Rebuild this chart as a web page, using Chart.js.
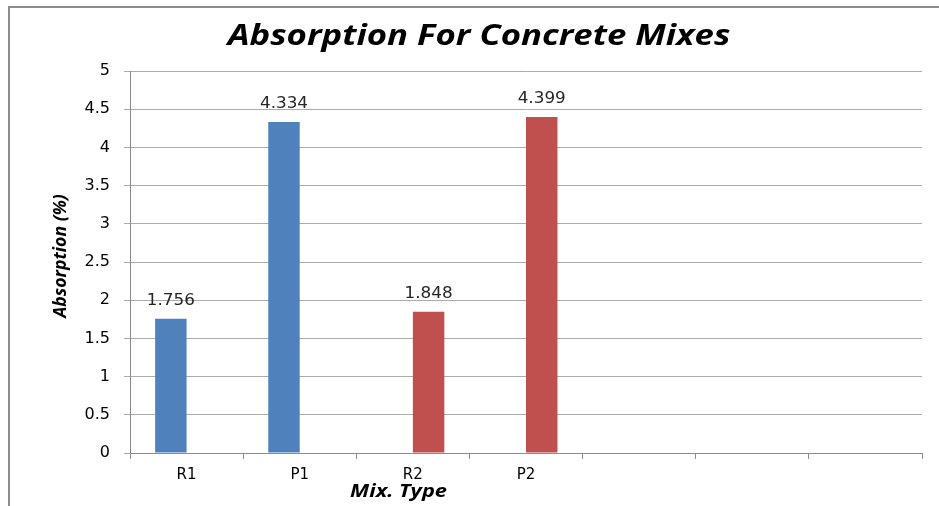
<!DOCTYPE html>
<html>
<head>
<meta charset="utf-8">
<script src="https://cdn.jsdelivr.net/npm/chart.js@4/dist/chart.umd.min.js"></script>
<style>
  html, body { margin: 0; padding: 0; background: #ffffff; }
  #wrap { width: 939px; height: 506px; position: relative; }
</style>
</head>
<body>
<div id="wrap"><canvas id="c" width="939" height="506"></canvas></div>
<script>
// Mix types along the x axis (trailing blank slots keep the empty categories)
const mixTypes = ['R1', 'P1', 'R2', 'P2', '', '', ''];
// Absorption (%) for the reference mixes and the modified mixes
const seriesBlue = [1.756, 4.334, null, null, null, null, null];
const seriesRed  = [null, null, 1.848, 4.399, null, null, null];
// Y axis range
const yMin = 0;
const yMax = 5;
const yStep = 0.5;

const chartTitle = 'Absorption For Concrete Mixes';
const yTitle = 'Absorption (%)';
const xTitle = 'Mix. Type';

// Draws text centred at (x, y), widened horizontally by sx
function wideText(ctx, text, x, y, sx) {
  ctx.save();
  ctx.translate(x, y);
  ctx.scale(sx, 1);
  ctx.fillText(text, 0, 0);
  ctx.restore();
}

// Outer frame of the chart object
const framePlugin = {
  id: 'frame',
  beforeDraw(chart) {
    const ctx = chart.ctx;
    ctx.save();
    ctx.strokeStyle = '#8c8c8c';
    ctx.lineWidth = 2;
    ctx.beginPath();
    ctx.moveTo(9, chart.height);
    ctx.lineTo(9, 7);
    ctx.lineTo(chart.width, 7);
    ctx.stroke();
    ctx.restore();
  }
};

// Title, value labels above each bar and the two axis titles
const labelPlugin = {
  id: 'labels',
  afterDatasetsDraw(chart) {
    const ctx = chart.ctx;
    const area = chart.chartArea;
    ctx.save();
    ctx.textAlign = 'center';

    // chart title
    ctx.font = 'italic bold 28px "Open Sans"';
    ctx.fillStyle = '#000000';
    ctx.textBaseline = 'middle';
    wideText(ctx, chartTitle, 479, 37, 1.24);

    // value labels
    ctx.font = '15px "DejaVu Sans"';
    ctx.fillStyle = '#262626';
    ctx.textBaseline = 'bottom';
    chart.data.datasets.forEach((ds, i) => {
      const meta = chart.getDatasetMeta(i);
      meta.data.forEach((bar, j) => {
        const v = ds.data[j];
        if (v === null || v === undefined) return;
        wideText(ctx, v.toFixed(3), bar.x, bar.y - 10, 1.12);
      });
    });

    // y axis title
    ctx.font = 'italic bold 17px "Open Sans"';
    ctx.fillStyle = '#000000';
    ctx.textBaseline = 'middle';
    ctx.save();
    ctx.translate(61, 256);
    ctx.rotate(-Math.PI / 2);
    wideText(ctx, yTitle, 0, 0, 1.04);
    ctx.restore();

    // x axis title
    ctx.font = 'italic bold 17px "Open Sans"';
    wideText(ctx, xTitle, area.left + (area.right - area.left) * 0.339, 492, 1.28);
    ctx.restore();
  }
};

new Chart(document.getElementById('c'), {
  type: 'bar',
  data: {
    labels: mixTypes,
    datasets: [
      { data: seriesBlue, backgroundColor: '#4F81BD', borderWidth: 0 },
      { data: seriesRed, backgroundColor: '#C0504D', borderWidth: 0 }
    ]
  },
  options: {
    responsive: false,
    animation: false,
    devicePixelRatio: 1,
    categoryPercentage: 0.556,
    barPercentage: 1.0,
    layout: { padding: { left: 0, right: 17, top: 71, bottom: 0 } },
    plugins: {
      legend: { display: false },
      tooltip: { enabled: false },
      title: { display: false }
    },
    scales: {
      x: {
        grid: {
          display: true,
          drawOnChartArea: false,
          drawTicks: true,
          tickLength: 6,
          color: '#8c8c8c',
          offset: true
        },
        border: { display: true, color: '#8c8c8c', width: 1 },
        ticks: {
          color: '#000000',
          font: { family: '"DejaVu Sans"', size: 15 },
          padding: 7,
          maxRotation: 0,
          autoSkip: false
        },
        afterFit(scale) { scale.height = 53; }
      },
      y: {
        min: yMin,
        max: yMax,
        grid: {
          color: '#ababab',
          drawTicks: true,
          tickLength: 6
        },
        border: { display: true, color: '#8c8c8c', width: 1 },
        ticks: {
          stepSize: yStep,
          color: '#000000',
          font: { family: '"DejaVu Sans"', size: 16 },
          padding: 14,
          callback: (v) => String(v)
        },
        afterFit(scale) { scale.width = 130; }
      }
    }
  },
  plugins: [framePlugin, labelPlugin]
});
</script>
</body>
</html>
